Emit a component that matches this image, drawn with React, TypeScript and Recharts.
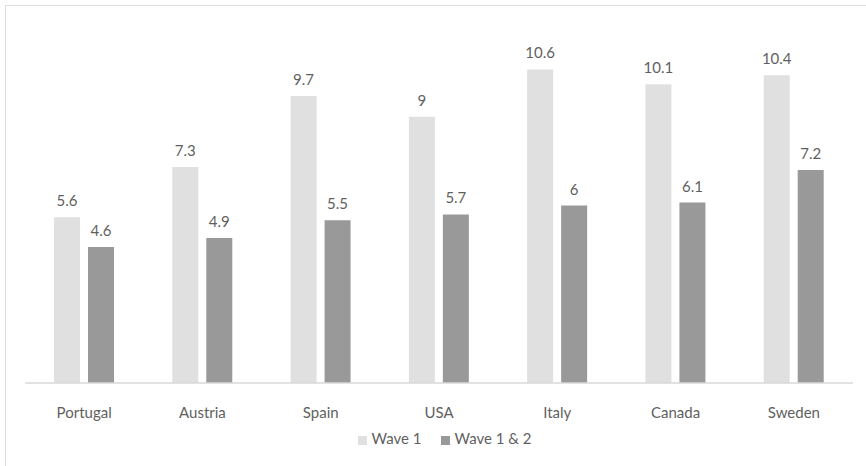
import { BarChart, Bar, XAxis, YAxis, Legend, LabelList } from "recharts";

const countries = ["Portugal", "Austria", "Spain", "USA", "Italy", "Canada", "Sweden"];
const wave1 = [5.6, 7.3, 9.7, 9, 10.6, 10.1, 10.4];
const wave12 = [4.6, 4.9, 5.5, 5.7, 6, 6.1, 7.2];

const data = countries.map((country, i) => ({
  country,
  wave1: wave1[i],
  wave12: wave12[i],
}));

const FONT = "Lato, 'Noto Sans', sans-serif";
const TEXT = "#5f5f5f";

const App = () => {
  return (
    <div style={{ position: "absolute", left: 0, top: 0, width: 866, height: 466, background: "#fff", fontFamily: FONT }}>
      <div
        style={{
          position: "absolute",
          left: 5,
          top: 5,
          right: 0,
          bottom: 0,
          borderTop: "1.5px solid #dcdcdc",
          borderLeft: "1.5px solid #dcdcdc",
        }}
      />
      <BarChart
        width={866}
        height={466}
        data={data}
        margin={{ top: 28, right: 13, left: 25, bottom: 53 }}
        barSize={26}
        barGap={8}
        style={{ position: "absolute", left: 0, top: 0 }}
      >
        <XAxis
          dataKey="country"
          height={30}
          axisLine={{ stroke: "#d9d9d9", strokeWidth: 1.5 }}
          tickLine={false}
          tickMargin={18}
          tick={{ fill: TEXT, fontSize: 15, fontFamily: FONT }}
        />
        <YAxis hide domain={[0, 12]} />
        <Legend
          layout="horizontal"
          verticalAlign="middle"
          align="center"
          iconType="square"
          iconSize={9}
          wrapperStyle={{ top: 429, fontSize: 15, fontFamily: FONT, paddingLeft: 22, boxSizing: "border-box" }}
          formatter={(value, _entry, index) => (
            <span style={{ color: TEXT, marginRight: index === 0 ? 10 : 0 }}>{value}</span>
          )}
        />
        <Bar dataKey="wave1" name="Wave 1" fill="#e0e0e0" isAnimationActive={false}>
          <LabelList dataKey="wave1" position="top" offset={11} fill={TEXT} fontSize={15} fontFamily={FONT} />
        </Bar>
        <Bar dataKey="wave12" name="Wave 1 & 2" fill="#999999" isAnimationActive={false}>
          <LabelList dataKey="wave12" position="top" offset={11} fill={TEXT} fontSize={15} fontFamily={FONT} />
        </Bar>
      </BarChart>
    </div>
  );
};

export default App;
